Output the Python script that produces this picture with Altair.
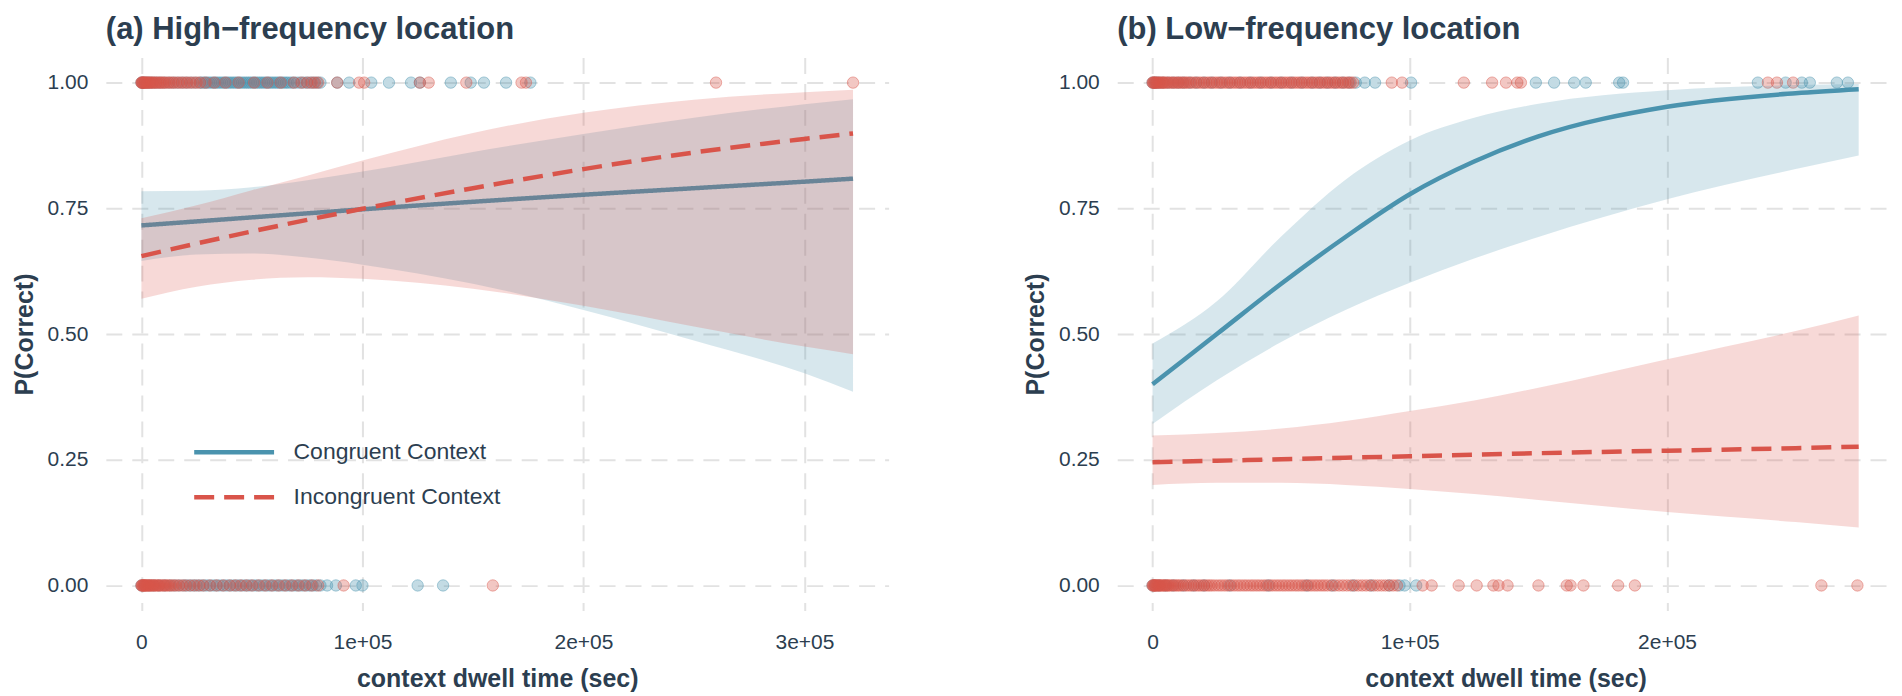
import altair as alt
import pandas as pd

# ---------------- data ----------------
COND = ["Congruent Context", "Incongruent Context"]

# (a) High-frequency location: fitted curves
A_X = [0, 25000, 50000, 75000, 100000, 150000, 200000, 250000, 300000, 322000]
A_CON_LINE = [.716, .724, .732, .740, .748, .763, .777, .790, .803, .809]
A_CON_LO = [.645, .658, .660, .652, .638, .600, .548, .487, .422, .385]
A_CON_HI = [.784, .785, .792, .806, .823, .862, .898, .930, .957, .967]
A_INC_LINE = [.655, .680, .704, .727, .749, .790, .828, .861, .888, .899]
A_INC_LO = [.570, .594, .608, .613, .610, .590, .556, .515, .475, .460]
A_INC_HI = [.730, .756, .786, .815, .845, .900, .940, .966, .981, .986]

# (a) raw trials: dwell time of correct (1) and incorrect (0) trials
A_CON_1 = [0, 600, 1500, 2600, 3800, 5200, 6800, 8500, 10500, 12500, 14500,
           16500, 18500, 20500, 22500, 24500, 26500, 27500, 28500, 29500, 30500,
           31500, 32500, 33500, 34500, 35500, 36500, 37500, 38500, 39500, 40500,
           41500, 42500, 43500, 44500, 45500, 46500, 47500, 48500, 49500, 50500,
           51500, 52500, 53500, 54500, 55500, 56500, 57500, 58500, 59500, 60500,
           61500, 62500, 63500, 64500, 65500, 66500, 67800, 69000, 70500, 72000,
           73500, 75000, 76500, 78000, 79500, 81000, 88600, 94000, 104000, 112000,
           122000, 126000, 140000, 149000, 155000, 165000, 176000]
A_INC_1 = [0, 200, 400, 700, 1000, 1400, 1800, 2200, 2700, 3200, 3700, 4200,
           4800, 5400, 6000, 6700, 7500, 8200, 9000, 9700, 10500, 11500, 12500,
           13500, 14500, 15700, 17000, 18200, 19500, 20700, 22000, 23500, 25000,
           26500, 29000, 33000, 38000, 44000, 51000, 57000, 63000, 69000, 72500,
           75000, 77000, 78500, 80000, 88600, 98500, 100800, 126000, 130000,
           147000, 172000, 174000, 260000, 322000]
A_CON_0 = [0, 1500, 3500, 5500, 8000, 10500, 13000, 15000, 17000, 19000, 20500,
           22000, 23500, 25000, 26500, 28000, 29500, 31000, 32500, 34000, 35500,
           37000, 38500, 40000, 41500, 43000, 44500, 46000, 47500, 49000, 50500,
           52000, 53500, 55000, 56500, 58000, 59500, 61000, 62500, 64000, 65500,
           67000, 68500, 70000, 71500, 73000, 74500, 76000, 77500, 79000, 81000,
           84000, 88000, 97000, 100000, 125000, 136500]
A_INC_0 = [0, 250, 500, 800, 1100, 1400, 1800, 2200, 2600, 3000, 3500, 4000,
           4500, 5000, 5600, 6200, 6800, 7400, 8000, 8700, 9500, 10200, 11000,
           11700, 12500, 13500, 14500, 15700, 17000, 18500, 20000, 22000, 24000,
           26000, 28000, 31000, 34000, 37000, 40000, 42500, 45000, 47500, 50000,
           53000, 56000, 59000, 62000, 65000, 68000, 71000, 74000, 77000, 80000,
           91500, 159000]

# (b) Low-frequency location: fitted curves
B_X = [0, 25000, 50000, 75000, 100000, 125000, 150000, 200000, 250000, 274500]
B_CON_LINE = [.400, .500, .600, .693, .778, .843, .893, .952, .979, .987]
B_CON_LO = [.321, .408, .484, .548, .602, .650, .693, .768, .828, .855]
B_CON_HI = [.481, .565, .694, .807, .885, .930, .958, .985, .995, .997]
B_INC_LINE = [.245, .248, .251, .254, .257, .260, .263, .268, .273, .276]
B_INC_LO = [.200, .204, .204, .200, .192, .182, .170, .146, .126, .115]
B_INC_HI = [.298, .303, .312, .327, .347, .368, .393, .450, .506, .537]

# (b) raw trials
B_CON_1 = [0, 800, 1500, 2500, 4000, 6000, 8000, 10000, 12000, 14500, 17000,
           20000, 23000, 26500, 30000, 34000, 38000, 42000, 46000, 50000, 54000,
           58000, 62000, 65000, 68000, 71000, 74000, 76500, 79000, 82500, 86500,
           100500, 149000, 156100, 163900, 168400, 181400, 182900, 235300, 246100,
           252400, 255500, 266000, 270300]
B_INC_1 = [0, 250, 500, 800, 1200, 1600, 2000, 2500, 3000, 3500, 4000, 4500,
           5000, 5700, 6500, 7200, 8000, 8700, 9500, 10200, 11000, 11700, 12500,
           13200, 14000, 15000, 16000, 17000, 18000, 19000, 20000, 21000, 22000,
           23000, 24000, 25000, 26000, 27000, 28000, 29000, 30000, 31000, 32000,
           33000, 34000, 35000, 36000, 37000, 38000, 39000, 40000, 41000, 42000,
           43000, 44000, 45000, 46000, 47000, 48000, 49000, 50000, 51000, 52000,
           53000, 54000, 55000, 56000, 57000, 58000, 59000, 60000, 61000, 62000,
           63000, 64000, 65000, 66000, 67000, 68000, 69000, 70000, 71000, 72000,
           73000, 74000, 75000, 76000, 77000, 78000, 93000, 97000, 121000, 132000,
           137400, 141800, 143200, 239200, 242700, 249000]
B_CON_0 = [0, 1000, 2500, 5000, 8000, 12000, 16000, 20000, 30000, 45000, 60000,
           70000, 78000, 85000, 92000, 96000, 98000, 102500]
B_INC_0 = [0, 250, 500, 750, 1000, 1400, 1800, 2200, 2600, 3000, 3500, 4000,
           4500, 5000, 5500, 6000, 6500, 7200, 8000, 8700, 9500, 10200, 11000,
           12000, 13000, 14000, 15000, 16000, 17000, 18000, 19000, 20000, 21000,
           22000, 23000, 24200, 25500, 26700, 28000, 29200, 30500, 31700, 33000,
           34200, 35500, 36700, 38000, 39200, 40500, 41700, 43000, 44200, 45500,
           46700, 48000, 49200, 50500, 51700, 53000, 54200, 55500, 56700, 58000,
           59200, 60500, 61700, 63000, 64200, 65500, 66700, 68000, 69500, 71000,
           72500, 74000, 75500, 77000, 78500, 80000, 81500, 83000, 84500, 86000,
           87500, 89000, 90500, 92000, 93500, 95000, 105000, 108500, 119000,
           126000, 132500, 134500, 138000, 150000, 161000, 162500, 167500, 181000,
           187500, 260000, 274000]

Y_TICKS = [0, 0.25, 0.5, 0.75, 1.0]
A_TICKS = [0, 100000, 200000, 300000]
B_TICKS = [0, 100000, 200000]

# ---------------- style ----------------
BLUE = "#4A93AE"
RED = "#D9544A"
TXT = "#2C3E50"
FONT = "Liberation Sans"


def curve_df(xs, line, lo, hi, cond):
    return pd.DataFrame({"x": xs, "line": line, "lo": lo, "hi": hi, "cond": cond})


def point_df(ones, zeros, cond):
    return pd.DataFrame({"x": list(ones) + list(zeros),
                         "y": [1.0] * len(ones) + [0.0] * len(zeros),
                         "cond": cond})


def panel(title, xmax, ticks, con_curve, inc_curve, con_pts, inc_pts, legend):
    pad = 0.05 * xmax
    xs = alt.Scale(domain=[-pad, xmax + pad], nice=False, zero=False)
    ys = alt.Scale(domain=[-0.05, 1.05], nice=False, zero=False)
    xa = alt.Axis(values=ticks, title="context dwell time (sec)",
                  labelExpr="datum.value == 0 ? '0' : format(datum.value / 100000, 'd') + 'e+05'")
    ya = alt.Axis(values=Y_TICKS, format=".2f", title="P(Correct)")

    X = alt.X("x:Q", scale=xs, axis=xa)

    def pts(df, col):
        return alt.Chart(df).mark_circle(
            size=130, color=col, fillOpacity=0.33, stroke=col,
            strokeOpacity=0.45, strokeWidth=1
        ).encode(x=X, y=alt.Y("y:Q", scale=ys, axis=ya))

    def band(df, col):
        return alt.Chart(df).mark_area(
            interpolate="monotone", color=col, opacity=0.22
        ).encode(x=X, y=alt.Y("lo:Q", scale=ys, axis=ya), y2="hi:Q")

    def line(df, col, dash):
        if legend:
            leg = alt.Legend(orient="none", legendX=106, legendY=373, title=None,
                             symbolType="M-2,0H2", symbolSize=1600,
                             symbolStrokeWidth=4.5, labelFontSize=23,
                             labelColor=TXT, labelFont=FONT, labelOffset=37,
                             rowPadding=10, padding=0, labelLimit=400)
            return alt.Chart(df).mark_line(
                interpolate="monotone", strokeWidth=4.5
            ).encode(
                x=X, y=alt.Y("line:Q", scale=ys, axis=ya),
                color=alt.Color("cond:N", scale=alt.Scale(domain=COND, range=[BLUE, RED]),
                                legend=leg),
                strokeDash=alt.StrokeDash("cond:N",
                                          scale=alt.Scale(domain=COND, range=[[1, 0], [20, 10]]),
                                          legend=leg),
            )
        m = dict(interpolate="monotone", strokeWidth=4.5, color=col)
        if dash:
            m["strokeDash"] = [20, 10]
        return alt.Chart(df).mark_line(**m).encode(
            x=X, y=alt.Y("line:Q", scale=ys, axis=ya))

    return alt.layer(
        pts(con_pts, BLUE),
        pts(inc_pts, RED),
        band(con_curve, BLUE),
        line(con_curve, BLUE, False),
        band(inc_curve, RED),
        line(inc_curve, RED, True),
    ).properties(
        width=784 if legend else 778,
        height=554,
        title=alt.TitleParams(title, anchor="start", frame="group", fontSize=31,
                              fontWeight="bold", color=TXT, font=FONT, offset=11),
    )


left = panel("(a) High\u2212frequency location", 322000, A_TICKS,
             curve_df(A_X, A_CON_LINE, A_CON_LO, A_CON_HI, COND[0]),
             curve_df(A_X, A_INC_LINE, A_INC_LO, A_INC_HI, COND[1]),
             point_df(A_CON_1, A_CON_0, COND[0]),
             point_df(A_INC_1, A_INC_0, COND[1]), True)

right = panel("(b) Low\u2212frequency location", 274500, B_TICKS,
              curve_df(B_X, B_CON_LINE, B_CON_LO, B_CON_HI, COND[0]),
              curve_df(B_X, B_INC_LINE, B_INC_LO, B_INC_HI, COND[1]),
              point_df(B_CON_1, B_CON_0, COND[0]),
              point_df(B_INC_1, B_INC_0, COND[1]), False)

chart = alt.hconcat(left, right, spacing=135).properties(
    padding={"left": 4, "top": 6, "right": 0, "bottom": 0}, background="white"
).configure(font=FONT).configure_view(stroke=None).configure_axis(
    labelFontSize=21, labelColor=TXT, labelFont=FONT,
    titleFontSize=25, titleFontWeight="bold", titleColor=TXT, titleFont=FONT,
    grid=True, gridColor="#E2E2E2", gridDash=[16, 10], gridWidth=2,
    domain=False, ticks=False,
).configure_axisX(labelPadding=21, titlePadding=14).configure_axisY(
    labelPadding=18, titlePadding=10)

chart.save("out.html", embed_options={"renderer": "svg", "actions": False})
